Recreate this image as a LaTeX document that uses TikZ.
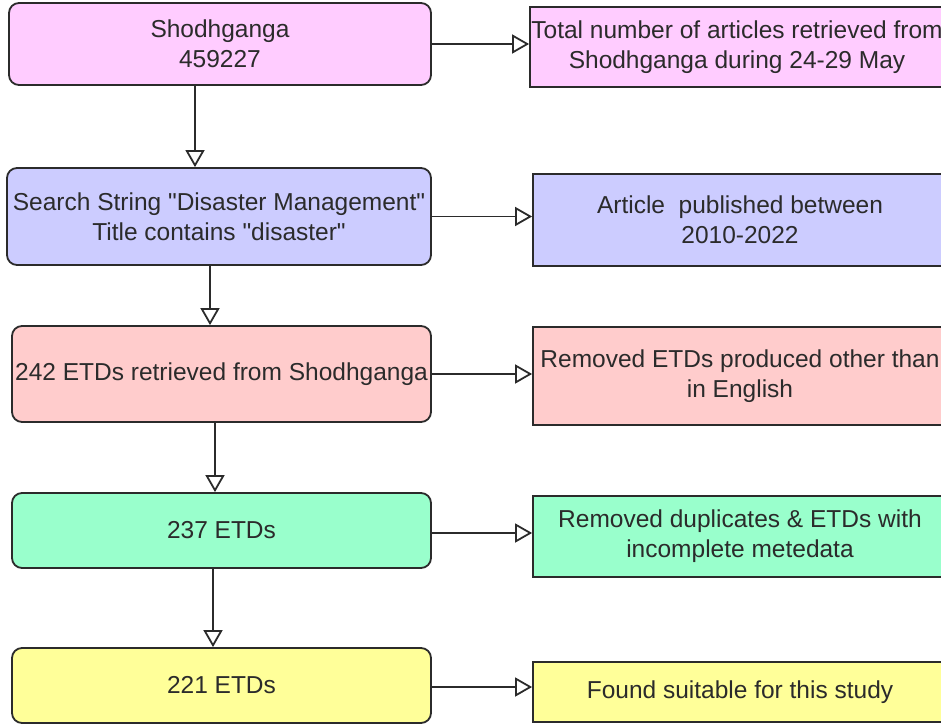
\documentclass[tikz,border=0pt]{standalone}
\usepackage{fontspec}
\setmainfont{Liberation Sans}
\usetikzlibrary{arrows.meta}

\definecolor{pinkfill}{HTML}{FFCCFF}
\definecolor{bluefill}{HTML}{CCCCFF}
\definecolor{redfill}{HTML}{FFCCCC}
\definecolor{greenfill}{HTML}{99FFCC}
\definecolor{yellowfill}{HTML}{FFFF99}
\definecolor{inkgray}{HTML}{2B2B2B}

\tikzset{
	stage/.style={draw=inkgray, line width=1.8pt, rounded corners=10pt, align=center, text=inkgray, inner sep=0pt, font=\fontsize{24.5}{30}\selectfont},
	remark/.style={stage, rounded corners=0pt},
	flow/.style={draw=inkgray, line width=1.8pt, -{Triangle[open, length=17pt, width=19pt]}}
}

\begin{document}
\begin{tikzpicture}[x=1pt, y=-1pt]
				\useasboundingbox (0,0) rectangle (941,725);
				\clip (0,0) rectangle (941,725);
				
				% left column
				\node[stage, fill=pinkfill, minimum width=422pt, minimum height=82pt] (shodh) at (220,44) {Shodhganga\\459227};
				\node[stage, fill=bluefill, minimum width=424pt, minimum height=97pt] (search) at (219,216.5) {Search String \textquotedbl Disaster Management\textquotedbl\\Title contains \textquotedbl disaster\textquotedbl};
				\node[stage, fill=redfill, minimum width=419pt, minimum height=96pt] (retrieved) at (221.5,374) {242 ETDs retrieved from Shodhganga};
				\node[stage, fill=greenfill, minimum width=419pt, minimum height=75pt] (etdsA) at (221.5,530.5) {237 ETDs};
				\node[stage, fill=yellowfill, minimum width=419pt, minimum height=75pt] (etdsB) at (221.5,685.5) {221 ETDs};
				
				% right column
				\node[remark, fill=pinkfill, minimum width=414pt, minimum height=80pt] (total) at (737,47) {Total number of articles retrieved from\\Shodhganga during 24-29 May};
				\node[remark, fill=bluefill, minimum width=414pt, minimum height=92pt] (period) at (740,220) {Article\ \ published between\\2010-2022};
				\node[remark, fill=redfill, minimum width=414pt, minimum height=98pt] (english) at (740,376) {Removed ETDs produced other than\\in English};
				\node[remark, fill=greenfill, minimum width=414pt, minimum height=81pt] (dupl) at (740,536.5) {Removed duplicates \& ETDs with\\incomplete metedata};
				\node[remark, fill=yellowfill, minimum width=414pt, minimum height=60pt] (suitable) at (740,692) {Found suitable for this study};
				
				% arrows down
				\draw[flow] ([xshift=-25pt]shodh.south) -- ([xshift=-24pt]search.north);
				\draw[flow] ([xshift=-9pt]search.south) -- ([xshift=-11.5pt]retrieved.north);
				\draw[flow] ([xshift=-6.5pt]retrieved.south) -- ([xshift=-6.5pt]etdsA.north);
				\draw[flow] ([xshift=-8.5pt]etdsA.south) -- ([xshift=-8.5pt]etdsB.north);
				
				% arrows right
				\draw[flow] (shodh.east) -- (shodh.east -| total.west);
				\draw[flow] (search.east) -- (search.east -| period.west);
				\draw[flow] (retrieved.east) -- (retrieved.east -| english.west);
				\draw[flow] ([yshift=-2.5pt]etdsA.east) -- ([yshift=-2.5pt]etdsA.east -| dupl.west);
				\draw[flow] ([yshift=-1.5pt]etdsB.east) -- ([yshift=-1.5pt]etdsB.east -| suitable.west);
\end{tikzpicture}
\end{document}
